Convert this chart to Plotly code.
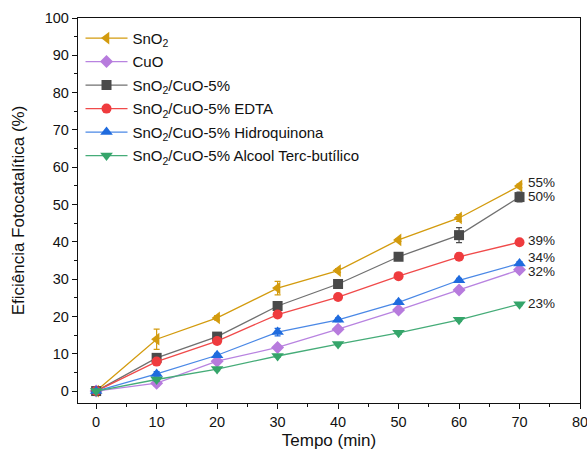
import plotly.graph_objects as go

tempo = [0, 10, 20, 30, 40, 50, 60, 70]

names = [
    "SnO<sub>2</sub>",
    "CuO",
    "SnO<sub>2</sub>/CuO-5%",
    "SnO<sub>2</sub>/CuO-5% EDTA",
    "SnO<sub>2</sub>/CuO-5% Hidroquinona",
    "SnO<sub>2</sub>/CuO-5% Alcool Terc-butílico",
]
sno2 = [0, 13.9, 19.6, 27.6, 32.3, 40.5, 46.4, 55.0]
cuo = [0, 2.1, 8.0, 11.7, 16.6, 21.7, 27.1, 32.5]
sno2_cuo = [0, 8.9, 14.6, 22.8, 28.7, 36.0, 41.8, 52.0]
edta = [0, 7.9, 13.4, 20.5, 25.2, 30.8, 36.0, 39.9]
hidro = [0, 4.6, 9.6, 15.8, 19.1, 23.8, 29.7, 34.2]
alcool = [0, 3.1, 5.9, 9.4, 12.6, 15.6, 19.1, 23.3]

err_sno2 = [0.3, 2.7, 0.6, 1.8, 0.5, 0.4, 0.9, 0.5]
err_cuo = [0.3, 0.8, 0.5, 0.5, 0.6, 0.5, 0.6, 0.5]
err_sno2_cuo = [0.3, 0.5, 0.5, 0.5, 0.5, 0.4, 2.0, 1.3]
err_edta = [0.3, 0.5, 0.5, 0.5, 0.4, 0.4, 1.0, 0.4]
err_hidro = [0.3, 0.6, 0.5, 1.0, 0.5, 0.5, 0.5, 0.5]
err_alcool = [0.3, 0.5, 0.4, 0.4, 0.4, 0.4, 0.4, 0.4]

labels = ["55%", "50%", "39%", "34%", "32%", "23%"]
label_y = [56.0, 52.2, 40.4, 35.8, 32.0, 23.4]

series = [sno2, cuo, sno2_cuo, edta, hidro, alcool]
errors = [err_sno2, err_cuo, err_sno2_cuo, err_edta, err_hidro, err_alcool]
line_colors = ["#D39B0E", "#B883E0", "#707070", "#F04A4A", "#4A88E6", "#45AC78"]
marker_colors = ["#D39B0E", "#B77BDD", "#4A4A4A", "#EF3B3E", "#1F6BDE", "#35A56A"]
symbols = ["triangle-left", "diamond", "square", "circle", "triangle-up", "triangle-down"]
sizes = [11, 10, 10, 10, 11, 11]

fig = go.Figure()
for i in range(len(series)):
    fig.add_trace(go.Scatter(
        x=tempo, y=series[i], name=names[i], mode="lines+markers",
        legendgroup=f"g{i}",
        line=dict(color=line_colors[i], width=1.3),
        marker=dict(symbol=symbols[i], size=sizes[i], color=marker_colors[i]),
        error_y=dict(type="data", array=errors[i], color=marker_colors[i],
                     thickness=1.2, width=3),
    ))

for lab, yv in zip(labels, label_y):
    fig.add_annotation(x=71.1, y=yv, text=lab, showarrow=False, xanchor="left",
                       yanchor="middle", font=dict(size=13.5, color="#222"))

fig.update_layout(
    width=587, height=450,
    margin=dict(l=78, r=7, t=18, b=47, autoexpand=False),
    plot_bgcolor="white", paper_bgcolor="white",
    font=dict(family="Liberation Sans, Arial, sans-serif", size=14.5, color="#111"),
    legend=dict(x=0.005, y=0.99, xanchor="left", yanchor="top",
                bgcolor="rgba(0,0,0,0)", tracegroupgap=1, itemwidth=42,
                font=dict(size=15)),
    showlegend=True,
)
fig.update_xaxes(
    range=[-3, 80], tickvals=[0, 10, 20, 30, 40, 50, 60, 70, 80],
    ticks="outside", ticklen=5, tickwidth=1, tickcolor="#111",
    ticklabeloverflow="allow", tickfont=dict(size=14.5),
    minor=dict(ticks="outside", ticklen=3, dtick=5, tick0=0, tickcolor="#111"),
    showline=True, linecolor="#111", linewidth=1.3, mirror=True,
    showgrid=False, zeroline=False, automargin=False,
    title=dict(text="Tempo (min)", font=dict(size=17)),
)
fig.update_yaxes(
    range=[-3.2, 100], tickvals=[0, 10, 20, 30, 40, 50, 60, 70, 80, 90, 100],
    ticks="outside", ticklen=5, tickwidth=1, tickcolor="#111",
    ticklabeloverflow="allow", tickfont=dict(size=14.5),
    minor=dict(ticks="outside", ticklen=3, dtick=5, tick0=0, tickcolor="#111"),
    showline=True, linecolor="#111", linewidth=1.3, mirror=True,
    showgrid=False, zeroline=False, automargin=False,
    title=dict(text="Eficiência Fotocatalítica (%)", font=dict(size=17)),
)

fig.write_html("out.html", config={"displayModeBar": False},
               post_script="document.body.style.margin='0';document.body.style.overflow='hidden';")
